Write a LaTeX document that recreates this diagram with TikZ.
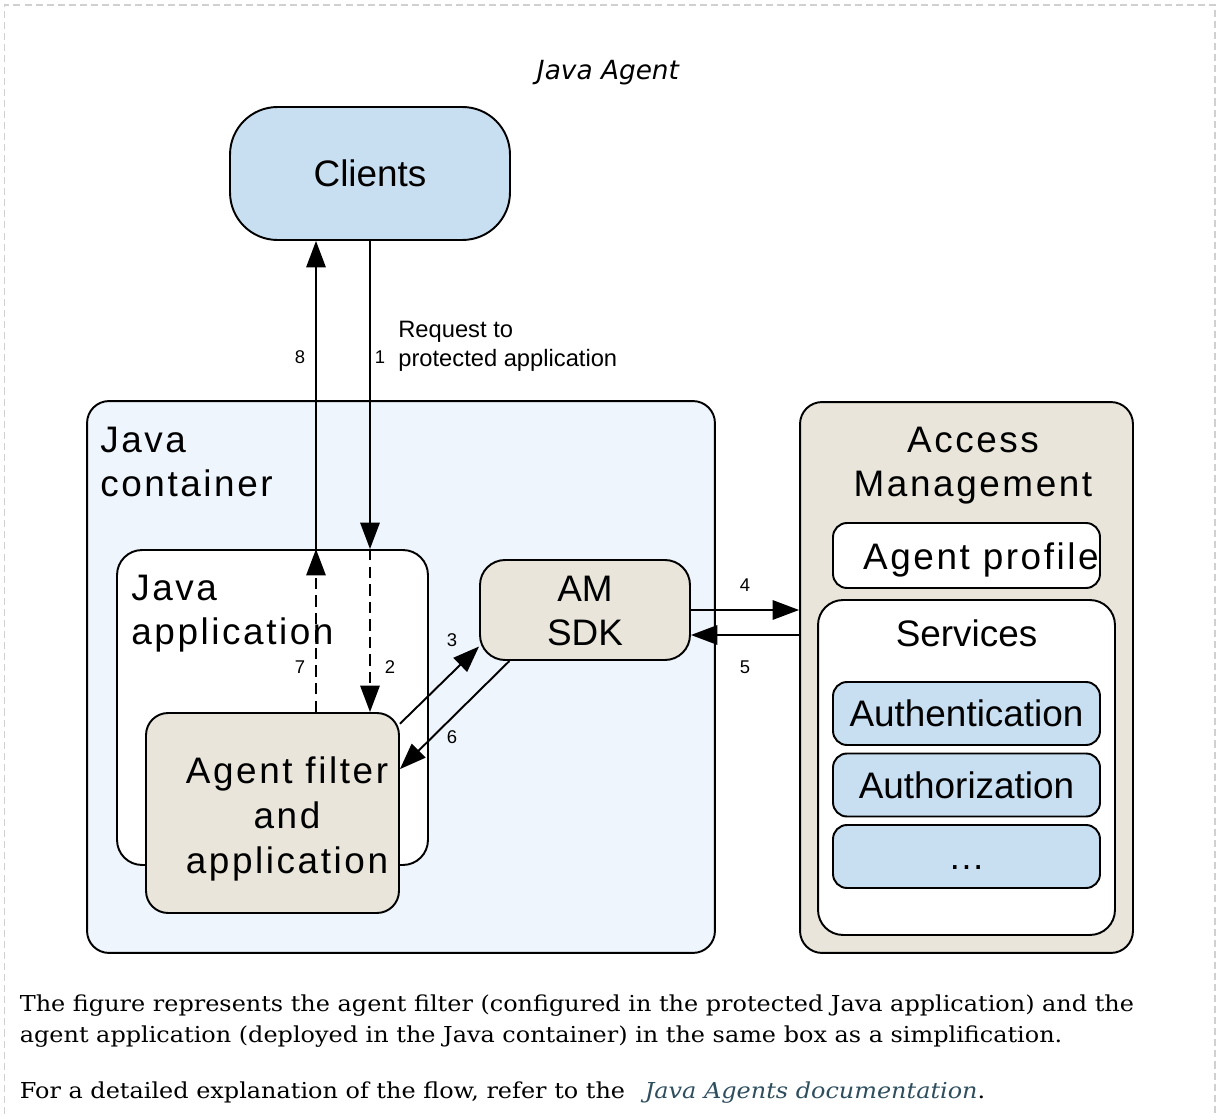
\documentclass[tikz,border=0pt]{standalone}
\usepackage{fontspec}
\usepackage{tikz}
\usetikzlibrary{calc}
\usetikzlibrary{positioning}
\usetikzlibrary{arrows.meta}
\setmainfont{Liberation Sans}
\newfontfamily\widesans[LetterSpace=7]{Liberation Sans}
\newfontfamily\titlefont{DejaVu Sans}
\newfontfamily\notefont[FakeStretch=1.09]{DejaVu Serif}
\definecolor{clientblue}{HTML}{C8DEF1}
\definecolor{containerblue}{HTML}{EEF5FC}
\definecolor{beige}{HTML}{E9E5DB}
\definecolor{frameline}{HTML}{D0D0D0}
\definecolor{linkcolor}{HTML}{2E4E5E}

\tikzset{
	box/.style={draw, line width=1.1pt, inner sep=0pt, rounded corners=0.44cm},
	flow/.style={line width=1.1pt, -{Triangle[length=15pt, width=11pt]}},
	dashflow/.style={flow, dash pattern=on 6.5pt off 3.5pt},
	num/.style={inner sep=0pt, font=\fontsize{10.5}{12}\selectfont},
	big/.style={inner sep=0pt, font=\fontsize{21}{25.5}\selectfont},
	bigwide/.style={inner sep=0pt, font=\widesans\fontsize{21}{25.5}\selectfont},
	item/.style={box, fill=clientblue, rounded corners=0.28cm, minimum width=5.34cm, minimum height=1.26cm, big, text height=15pt, text depth=0pt},
	note/.style={inner sep=0pt, anchor=base west, font=\notefont\fontsize{12.5}{15}\selectfont}
}

\begin{document}
\begin{tikzpicture}[x=0.02cm, y=-0.02cm]
		\useasboundingbox (0,0) rectangle (1218,1114);

		% frame round the figure, open at the bottom
		\draw[frameline, line width=0.85pt, dash pattern=on 4pt off 2.3pt] (4.5,1114) -- (4.5,5) -- (1215,5) -- (1215,1114);

		\node[inner sep=0pt, anchor=base, font=\titlefont\itshape\fontsize{15}{18}\selectfont] (title) at (608,80) {Java Agent};

		\node[box, fill=clientblue, rounded corners=0.95cm, minimum width=5.6cm, minimum height=2.66cm, big, text height=15pt, text depth=0pt] (clients) at (370,173.5) {Clients};

		% multi-line labels are placed by the baseline of their last line
		\node[box, fill=containerblue, minimum width=12.56cm, minimum height=11.04cm] (container) at (401,677) {};
		\node[bigwide, anchor=base west, align=left] (containerlabel) at (100,497) {Java\\container};

		\node[box, fill=white, rounded corners=0.5cm, minimum width=6.22cm, minimum height=6.3cm] (japp) at (272.5,707.5) {};
		\node[bigwide, anchor=base west, align=left] (japplabel) at (131,645) {Java\\application};

		\node[box, fill=beige, minimum width=5.06cm, minimum height=4cm] (filter) at (272.5,813) {};
		\node[bigwide, anchor=base, align=center] (filterlabel) at (287,873) {Agent filter\\and\\application};

		\node[box, fill=beige, rounded corners=0.5cm, minimum width=4.2cm, minimum height=2cm] (sdk) at (585,610) {};
		\node[big, anchor=base, align=center] (sdklabel) at (585,646) {AM\\SDK};

		\node[box, fill=beige, minimum width=6.66cm, minimum height=11.02cm] (am) at (966.5,677.5) {};
		\node[bigwide, anchor=base, align=center] (amlabel) at (973,497) {Access\\Management};

		\node[box, fill=white, rounded corners=0.28cm, minimum width=5.34cm, minimum height=1.3cm] (profile) at (966.5,555.5) {};
		\node[bigwide, anchor=base] (profilelabel) at (981,570) {Agent profile};

		\node[box, fill=white, rounded corners=0.5cm, minimum width=5.94cm, minimum height=6.7cm] (services) at (966.5,767.5) {};
		\node[big, anchor=base] (serviceslabel) at (966.5,647) {Services};

		\node[item] (authn) at (966.5,713.5) {Authentication};
		\node[item] (authz) at (966.5,785) {Authorization};
		\node[item] (more) at (966.5,856.5) {…};

		% request and response through the agent filter
		\coordinate (c8) at (316,0);
		\coordinate (c1) at (370,0);
		\coordinate (c5) at (0,635);
		\draw[dashflow] (filter.north -| c8) -- (japp.north -| c8);
		\draw[flow] (japp.north -| c8) -- (clients.south -| c8);
		\draw[flow] (clients.south -| c1) -- (japp.north -| c1);
		\draw[dashflow] (japp.north -| c1) -- (filter.north -| c1);
		\draw[flow] (filter.35) -- (sdk.199);
		\draw[flow] (sdk.214) -- (filter.19);
		\draw[flow] (sdk.east) -- (am.west |- sdk.east);
		\draw[flow] (am.west |- c5) -- (sdk.east |- c5);

		\node[num] (n1) at (380,357) {1};
		\node[num] (n2) at (390,667) {2};
		\node[num] (n3) at (452,640) {3};
		\node[num] (n4) at (745,585) {4};
		\node[num] (n5) at (745,667) {5};
		\node[num] (n6) at (452,737) {6};
		\node[num] (n7) at (300,667) {7};
		\node[num] (n8) at (300,357) {8};
		\node[inner sep=0pt, anchor=base west, align=left, font=\fontsize{13.5}{17}\selectfont] (request) at (398,367) {Request to\\protected application};

		% caption under the figure
		\node[note] (note1) at (19.5,1011) {The figure represents the agent filter (configured in the protected Java application) and the};
		\node[note] (note2) at (19.5,1042) {agent application (deployed in the Java container) in the same box as a simplification.};
		\node[note] (note3) at (19.5,1098) {For a detailed explanation of the flow, refer to the\hspace{0.9em}{\color{linkcolor}\itshape Java Agents documentation}.};
\end{tikzpicture}
\end{document}
